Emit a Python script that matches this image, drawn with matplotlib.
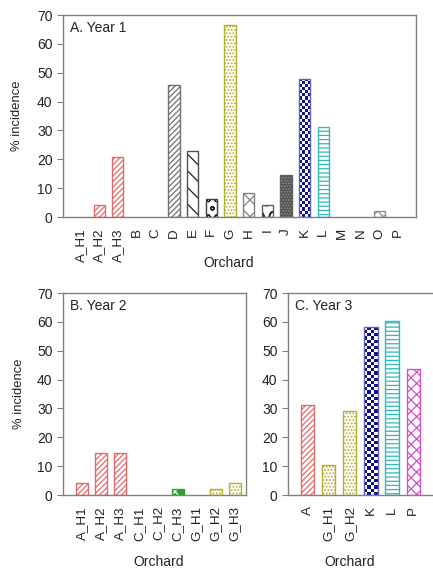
import matplotlib
matplotlib.use('Agg')
import numpy as np
import matplotlib.pyplot as plt
from matplotlib.colors import ListedColormap

plt.rcParams['font.family'] = ['Liberation Sans', 'DejaVu Sans']
plt.rcParams['hatch.linewidth'] = 0.9

# data
year1_labels = ['A_H1', 'A_H2', 'A_H3', 'B', 'C', 'D', 'E', 'F', 'G', 'H',
                'I', 'J', 'K', 'L', 'M', 'N', 'O', 'P']
year1_values = [0, 4.2, 20.8, 0, 0, 45.8, 22.9, 6.3, 66.7, 8.3,
                4.2, 14.6, 47.9, 31.3, 0, 0, 2.1, 0]

year2_labels = ['A_H1', 'A_H2', 'A_H3', 'C_H1', 'C_H2', 'C_H3', 'G_H1', 'G_H2', 'G_H3']
year2_values = [4.2, 14.6, 14.6, 0, 0, 2.1, 0, 2.1, 4.2]

year3_labels = ['A', 'G_H1', 'G_H2', 'K', 'L', 'P']
year3_values = [31.3, 10.4, 29.2, 58.3, 60.4, 43.8]

# styles: (face, hatch colour, hatch, edge)
red = '#e06a6a'
olive = '#b4b030'
navy = '#10108a'
styles = {
    'A': ('white', red, '//////', red),
    'D': ('white', '#707070', '//////', '#707070'),
    'E': ('white', '#202020', '\\\\', '#505050'),
    'F': ('white', '#202020', 'oo', '#404040'),
    'G': ('white', olive, '.....', olive),
    'H': ('white', '#808080', 'xx', '#808080'),
    'I': ('white', '#202020', 'O', '#606060'),
    'J': ('#505050', '#909090', '......', '#606060'),
    'K': ('checker', None, '', '#6060c0'),
    'L': ('white', '#30b8b8', '----', '#30b8b8'),
    'O': ('white', '#909090', 'xxx', '#909090'),
    'P': ('white', '#d050c0', 'xxx', '#d050c0'),
    'C': ('#30a030', 'white', 'xx', '#30a030'),
}
checker_cmap = ListedColormap(['white', navy])


def style_for(lab):
    return styles.get(lab.split('_')[0], ('white', 'gray', '', 'gray'))


def draw(ax, labels, values, title, xlim, width, ylabel_x=None):
    for i, (lab, v) in enumerate(zip(labels, values)):
        if v <= 0:
            continue
        face, hc, hatch, ec = style_for(lab)
        if face == 'checker':
            bar = ax.bar(i, v, width=width, color='white', linewidth=0)[0]
            rr, cc = np.indices((64, 4))
            img = ax.imshow((rr + cc) % 2, cmap=checker_cmap, aspect='auto',
                            interpolation='nearest', origin='lower',
                            extent=(i - width / 2, i + width / 2, 0, 70), zorder=2)
            img.set_clip_path(bar)
        else:
            ax.bar(i, v, width=width, color=face, edgecolor=hc, hatch=hatch,
                   linewidth=0, zorder=2)
        ax.bar(i, v, width=width, fill=False, edgecolor=ec, linewidth=1.0, zorder=3)
    ax.set_xlim(*xlim)
    ax.set_ylim(0, 70)
    ax.set_yticks(range(0, 71, 10))
    ax.set_xticks(range(len(labels)))
    ax.set_xticklabels(labels, rotation=90, fontsize=9.6, color='#222222')
    ax.tick_params(axis='x', length=0, pad=8)
    ax.tick_params(axis='y', length=4, labelsize=10, color='#808080',
                   labelcolor='#222222')
    for s in ax.spines.values():
        s.set_color('#808080')
        s.set_linewidth(1.0)
    ax.annotate(title, xy=(0, 1), xycoords='axes fraction', xytext=(5, -4),
                textcoords='offset points', ha='left', va='top', fontsize=10,
                color='#222222')
    ax.set_xlabel('Orchard', fontsize=10, color='#222222')
    if ylabel_x is not None:
        ax.set_ylabel('% incidence', fontsize=9.4, color='#222222')
        ax.yaxis.set_label_coords(ylabel_x, 0.5)


fig = plt.figure(figsize=(4.33, 5.69), dpi=100)
axA = fig.add_axes([0.1455, 0.6186, 0.815, 0.355])
axB = fig.add_axes([0.1455, 0.130, 0.4226, 0.355])
axC = fig.add_axes([0.665, 0.130, 0.3326, 0.355])

draw(axA, year1_labels, year1_values, 'A. Year 1', (-0.94, 17.96), 0.6, ylabel_x=-0.112)
draw(axB, year2_labels, year2_values, 'B. Year 2', (-1.0, 8.58), 0.62, ylabel_x=-0.205)
draw(axC, year3_labels, year3_values, 'C. Year 3', (-0.95, 5.9), 0.62)
axC.spines['right'].set_visible(False)

axA.xaxis.set_label_coords(0.47, -0.193)
axB.xaxis.set_label_coords(0.52, -0.297)
axC.xaxis.set_label_coords(0.43, -0.297)

fig.savefig('out.png', dpi=100)
